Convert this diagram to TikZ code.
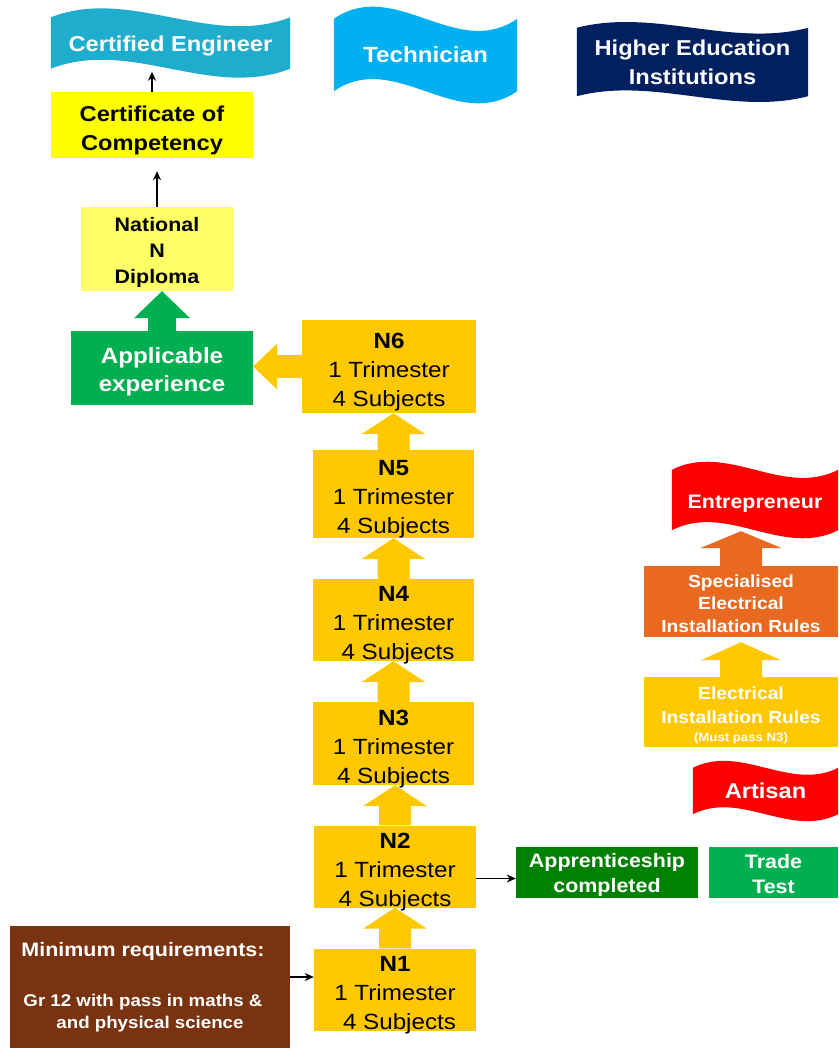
\documentclass[tikz,border=0pt]{standalone}
\usepackage{fontspec}
\setmainfont{Liberation Sans}[FakeStretch=1.1]
\usetikzlibrary{calc,arrows.meta,backgrounds}

\definecolor{ceblue}{RGB}{31,173,206}
\definecolor{techblue}{RGB}{0,176,240}
\definecolor{navy}{RGB}{0,32,96}
\definecolor{yel}{RGB}{255,255,0}
\definecolor{lyel}{RGB}{255,255,102}
\definecolor{lgreen}{RGB}{0,176,80}
\definecolor{dgreen}{RGB}{0,128,0}
\definecolor{gold}{RGB}{255,200,0}
\definecolor{brown}{RGB}{122,51,16}
\definecolor{redb}{RGB}{255,0,0}
\definecolor{orng}{RGB}{233,105,32}

\newcommand{\dn}[1]{\rule{0pt}{#1pt}}

\tikzset{
  bx/.style={inner sep=0pt, align=center, draw=none},
  wtxt/.style={bx, text=white},
  nblk/.style={bx, fill=gold, text=black, minimum width=#1, font=\fontsize{22}{29}\selectfont},
  thin/.style={-{Stealth[length=9pt,width=8pt]}, line width=1.8pt, black},
}

\newcommand{\wavefill}[3]{%
  \fill[#3] (#1.north west) .. controls ($(#1.north west)!1/3!(#1.north east)+(0,-#2)$) and ($(#1.north west)!2/3!(#1.north east)+(0,#2)$) .. (#1.north east)
   -- (#1.south east) .. controls ($(#1.south west)!2/3!(#1.south east)+(0,#2)$) and ($(#1.south west)!1/3!(#1.south east)+(0,-#2)$) .. (#1.south west) -- cycle;}

% from, to, shaft half width, head half width, head length, gap, colour
\newcommand{\blockup}[7]{%
  \fill[#7] ($(#1.north)+(-#3,0)$) -- ($(#1.north |- #2.south)+(-#3,#5+#6)$) -- ($(#1.north |- #2.south)+(-#4,#5+#6)$)
   -- ($(#1.north |- #2.south)+(0,#6)$) -- ($(#1.north |- #2.south)+(#4,#5+#6)$) -- ($(#1.north |- #2.south)+(#3,#5+#6)$)
   -- ($(#1.north)+(#3,0)$) -- cycle;}

% from, to, shaft half width, head half width, head length, colour
\newcommand{\blockleft}[6]{%
  \fill[#6] ($(#1.west)+(0,-#3)$) -- ($(#2.east |- #1.west)+(#5,-#3)$) -- ($(#2.east |- #1.west)+(#5,-#4)$)
   -- (#2.east |- #1.west) -- ($(#2.east |- #1.west)+(#5,#4)$) -- ($(#2.east |- #1.west)+(#5,#3)$)
   -- ($(#1.west)+(0,#3)$) -- cycle;}

\begin{document}
\begin{tikzpicture}[x=1pt,y=-1pt]
\useasboundingbox (0,0) rectangle (838,1048);

% top banners
\node[wtxt, minimum width=239pt, minimum height=51pt, font=\fontsize{21.5}{29}\selectfont\bfseries] (ce) at (170.5,43) {\dn{22}Certified Engineer};
\node[wtxt, minimum width=183pt, minimum height=72pt, font=\fontsize{22}{29}\selectfont\bfseries] (tech) at (425.5,55) {Technician};
\node[wtxt, minimum width=231pt, minimum height=68pt, font=\fontsize{21.5}{29}\selectfont\bfseries] (hei) at (692.5,62) {Higher Education\\Institutions};

% left column
\node[bx, fill=yel, minimum width=202pt, minimum height=66pt, font=\fontsize{21.5}{29}\selectfont\bfseries] (cert) at (152,125) {\dn{26}Certificate of\\Competency};
\node[bx, fill=lyel, minimum width=152pt, minimum height=84pt, font=\fontsize{19.5}{26}\selectfont\bfseries] (nd) at (157,249) {\dn{22}National\\N\\Diploma};
\node[wtxt, fill=lgreen, minimum width=182pt, minimum height=74pt, font=\fontsize{22}{28}\selectfont\bfseries] (ae) at (162,368) {\dn{24}Applicable\\experience};

% N blocks
\node[nblk=174pt, minimum height=93pt] (n6) at (389,366.5) {\dn{21}\textbf{N6}\\1 Trimester\\\smash{4 Subjects}};
\node[nblk=161pt, minimum height=88pt] (n5) at (393.5,494) {\dn{21}\textbf{N5}\\1 Trimester\\\smash{4 Subjects}};
\node[nblk=161pt, minimum height=82pt] (n4) at (393.5,620) {\dn{21}\textbf{N4}\\1 Trimester\\\hspace*{9pt}\smash{4 Subjects}};
\node[nblk=161pt, minimum height=83pt] (n3) at (393.5,743.5) {\dn{21}\textbf{N3}\\1 Trimester\\\smash{4 Subjects}};
\node[nblk=162pt, minimum height=82pt] (n2) at (395,866.5) {\dn{21}\textbf{N2}\\1 Trimester\\\smash{4 Subjects}};
\node[nblk=162pt, minimum height=82pt] (n1) at (395,989.5) {\dn{21}\textbf{N1}\\1 Trimester\\\hspace*{9pt}\smash{4 Subjects}};

% bottom row
\node[wtxt, fill=dgreen, minimum width=182pt, minimum height=51pt, font=\fontsize{19.5}{25}\selectfont\bfseries] (app) at (607,872.5) {\dn{20}Apprenticeship\\completed};
\node[wtxt, fill=lgreen, minimum width=129pt, minimum height=51pt, font=\fontsize{19.5}{25}\selectfont\bfseries] (tt) at (773.5,872.5) {\dn{18}Trade\\Test};
\node[wtxt, fill=brown, minimum width=280pt, minimum height=122pt, font=\fontsize{19.5}{22}\selectfont\bfseries] (mr) at (150,987)
  {\hspace*{-14pt}Minimum requirements:\\[28pt]\fontsize{17}{22}\selectfont\hspace*{-14pt}Gr 12 with pass in maths \&\\\fontsize{17}{22}\selectfont and physical science};

% right column
\node[wtxt, minimum width=166pt, minimum height=60pt, font=\fontsize{19.5}{26}\selectfont\bfseries] (ent) at (755,500) {\dn{22}Entrepreneur};
\node[wtxt, fill=orng, minimum width=194pt, minimum height=71pt, font=\fontsize{17.5}{22.5}\selectfont\bfseries] (sp) at (741,601.5) {\dn{17}Specialised\\Electrical\\Installation Rules};
\node[wtxt, fill=gold, minimum width=194pt, minimum height=70pt, font=\fontsize{17.5}{24}\selectfont\bfseries] (eir) at (741,712) {\dn{19}Electrical\\Installation Rules\\[-6pt]\fontsize{12}{13}\selectfont (Must pass N3)};
\node[wtxt, minimum width=145pt, minimum height=46pt, font=\fontsize{21.5}{28}\selectfont\bfseries] (art) at (765.5,791) {Artisan};

\begin{scope}[on background layer]
  \fill[white] (0,0) rectangle (838,1048);
  \wavefill{ce}{31}{ceblue}
  \wavefill{tech}{42}{techblue}
  \wavefill{hei}{20}{navy}
  \wavefill{ent}{28}{redb}
  \wavefill{art}{24}{redb}
\end{scope}

% block arrows
\blockup{n5}{n6}{16}{32}{21}{0}{gold}
\blockup{n4}{n5}{16}{32}{21}{0}{gold}
\blockup{n3}{n4}{16}{32}{21}{0}{gold}
\blockup{n2}{n3}{16}{32}{21}{0}{gold}
\blockup{n1}{n2}{16}{32}{21}{0}{gold}
\blockup{ae}{nd}{14}{28}{27}{0}{lgreen}
\blockleft{n6}{ae}{11.5}{23}{24}{gold}
\blockup{sp}{ent}{21}{41}{17}{1}{orng}
\blockup{eir}{sp}{21}{40}{18}{5}{gold}

% thin arrows
\draw[thin, shorten >=3pt] (cert.north) -- (cert.north |- ce.south);
\draw[thin, shorten >=13pt] (nd.north) -- (nd.north |- cert.south);
\draw[thin] ([yshift=-6pt]app.west -| n2.east) -- ([yshift=-6pt]app.west);
\draw[thin] ([yshift=10pt]mr.east) -- ([yshift=10pt]mr.east -| n1.west);
\end{tikzpicture}
\end{document}
